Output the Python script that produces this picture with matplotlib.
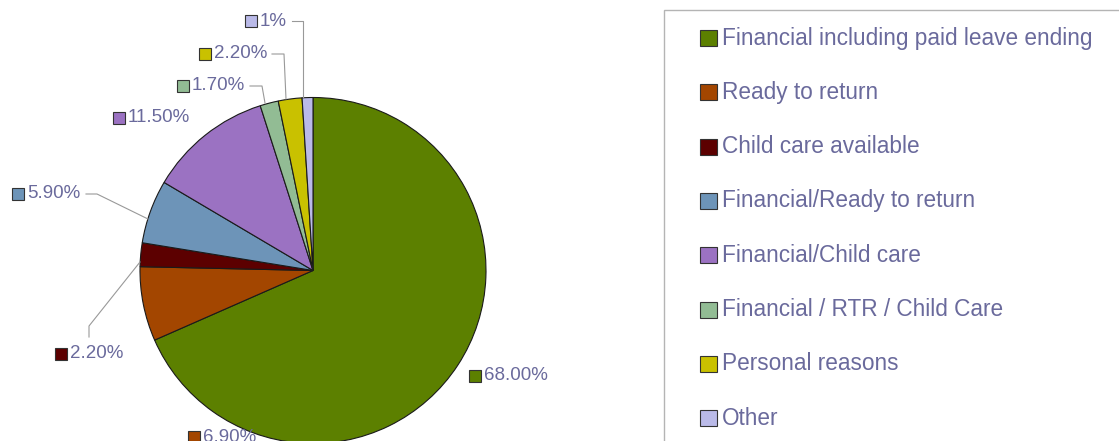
import matplotlib
matplotlib.use("Agg")
import matplotlib.pyplot as plt
from matplotlib.patches import Rectangle

# reasons for returning to work
categories = ['Financial including paid leave ending',
              'Ready to return',
              'Child care available',
              'Financial/Ready to return',
              'Financial/Child care',
              'Financial / RTR / Child Care',
              'Personal reasons',
              'Other']
shares = [68.0, 6.9, 2.2, 5.9, 11.5, 1.7, 2.2, 1.0]
pct_labels = ['68.00%', '6.90%', '2.20%', '5.90%', '11.50%', '1.70%', '2.20%', '1%']
colors = ['#5c8000', '#a34600', '#5c0000', '#6d94b8',
          '#9b72c2', '#92bc94', '#c9c100', '#babae8']

W, H = 1119, 441
txt_col = '#6a6a9c'
plt.rcParams['font.family'] = ['Liberation Sans', 'DejaVu Sans']

fig = plt.figure(figsize=(W / 100, H / 100), dpi=100)
ax = fig.add_axes([0, 0, 1, 1])

# y axis is flipped, so counterclock in data = clockwise on screen
wedges, _ = ax.pie(shares, colors=colors, startangle=270, counterclock=True,
                   center=(313, 270.5), radius=173, frame=True,
                   wedgeprops=dict(edgecolor='#1a1a1a', linewidth=0.8))
ax.set_xlim(0, W)
ax.set_ylim(H, 0)
ax.set_aspect('equal')
ax.axis('off')

# data labels: (square x, y) in pixels, leader line points
label_pos = [(475, 376), (194, 437), (61, 354), (18, 194),
             (119, 118), (183, 86), (205, 54), (251, 21)]
leaders = [None, None,
           [(89, 337), (89, 326), (140, 262)],
           [(86, 194), (97, 194), (148, 219)],
           None,
           [(250, 86), (262, 86), (265, 103)],
           [(272, 54), (284, 54), (286, 99)],
           [(292, 21), (303, 21), (303, 97)]]

for i, (lx, ly) in enumerate(label_pos):
    ax.add_patch(Rectangle((lx - 6, ly - 6), 12, 12, facecolor=colors[i],
                           edgecolor='#333333', linewidth=0.8))
    ax.text(lx + 9, ly, pct_labels[i], color=txt_col, fontsize=13.5,
            va='center', ha='left')
    if leaders[i] is not None:
        xs = [p[0] for p in leaders[i]]
        ys = [p[1] for p in leaders[i]]
        ax.plot(xs, ys, color='#999999', linewidth=0.8)

# legend box
ax.add_patch(Rectangle((664, 10), 470, 440, facecolor='white',
                       edgecolor='#b4b4b4', linewidth=1.0))
for i, name in enumerate(categories):
    ly = 38 + i * 54.3
    ax.add_patch(Rectangle((700, ly - 8), 17, 16, facecolor=colors[i],
                           edgecolor='#333333', linewidth=0.8))
    ax.text(722, ly, name, color=txt_col, fontsize=16.3,
            va='center', ha='left')

fig.savefig('out.png', dpi=100)
